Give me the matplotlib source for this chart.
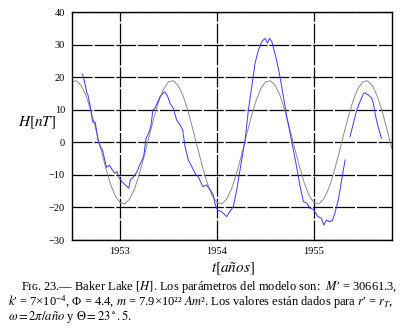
import numpy as np
import matplotlib
matplotlib.use("Agg")
import matplotlib.pyplot as plt

plt.rcParams['font.family'] = ['Liberation Serif', 'DejaVu Serif']
plt.rcParams['mathtext.fontset'] = 'stix'

# model curve (gray), every 0.05 yr
model_t = [1952.50 + 0.05 * i for i in range(67)]
model_v = [18.5, 18.9, 17.4, 14.3, 9.7, 4.1, -1.8, -7.5, -12.6, -16.4,
           -18.5, -18.9, -17.4, -14.3, -9.7, -4.1, 1.8, 7.5, 12.6, 16.4,
           18.5, 18.9, 17.4, 14.3, 9.7, 4.1, -1.8, -7.5, -12.6, -16.4,
           -18.5, -18.9, -17.4, -14.3, -9.7, -4.1, 1.8, 7.5, 12.6, 16.4,
           18.5, 18.9, 17.4, 14.3, 9.7, 4.1, -1.8, -7.5, -12.6, -16.4,
           -18.5, -18.9, -17.4, -14.3, -9.7, -4.1, 1.8, 7.5, 12.6, 16.4,
           18.5, 18.9, 17.4, 14.3, 9.7, 4.1, -1.8]

# observed H (blue)
obs_t = [1952.615, 1952.63, 1952.66, 1952.67, 1952.694, 1952.718, 1952.745,
         1952.773, 1952.797, 1952.82, 1952.86, 1952.89, 1952.91, 1952.945,
         1952.97, 1952.985, 1953.02, 1953.055, 1953.09, 1953.106, 1953.14,
         1953.175, 1953.21, 1953.244, 1953.268, 1953.295, 1953.315, 1953.34,
         1953.36, 1953.412, 1953.44, 1953.464, 1953.49, 1953.515, 1953.55,
         1953.584, 1953.62, 1953.646, 1953.67, 1953.704, 1953.74, 1953.773,
         1953.807, 1953.853, 1953.89, 1953.928, 1953.962, 1953.975, 1954.004,
         1954.045, 1954.10, 1954.13, 1954.168, 1954.203, 1954.254, 1954.289,
         1954.323, 1954.358, 1954.392, 1954.426, 1954.461, 1954.495, 1954.52,
         1954.54, 1954.565, 1954.605, 1954.64, 1954.666, 1954.684, 1954.718,
         1954.753, 1954.787, 1954.82, 1954.856, 1954.89, 1954.925, 1954.959,
         1954.99, 1955.007, 1955.04, 1955.075, 1955.10, 1955.128, 1955.162,
         1955.19, 1955.214, 1955.25, 1955.284, 1955.32, 1955.34, 1955.37,
         1955.405, 1955.44, 1955.474, 1955.508, 1955.525, 1955.56, 1955.595,
         1955.61, 1955.635, 1955.66, 1955.695]
obs_v = [20.9, 19.1, 15.0, 14.5, 10.9, 6.3, 6.1,
         0.7, -1.3, -2.4, -7.7, -7.0, -8.0, -9.5,
         -9.0, -10.6, -12.1, -13.1, -14.1, -11.6, -10.6,
         -9.0, -6.5, -4.4, 1.2, 2.8, 4.5, 9.9,
         10.4, 14.0, 15.0, 15.5, 14.2, 12.0, 10.4,
         6.8, 5.3, 3.8, -1.3, -5.4, -7.5, -9.5,
         -10.6, -13.6, -13.1, -14.6, -16.2, -18.5, -20.8,
         -21.3, -22.8, -21.3, -19.8, -14.6, -5.4, 0.7,
         9.9, 17.1, 24.3, 28.3, 30.9, 31.9, 30.4,
         31.9, 30.9, 26.3, 21.5, 17.1, 14.0, 7.9,
         2.8, -2.4, -7.5, -13.6, -18.2, -18.7, -20.3,
         -20.5, -21.3, -22.8, -23.3, -25.4, -23.9, -24.4,
         -23.9, -21.8, -17.7, -11.6, -5.4, np.nan, 1.7,
         5.8, 9.9, 12.5, 15.0, 15.2, 14.5, 13.5,
         12.0, 7.9, 4.8, 1.2]

yticks = [-30, -20, -10, 0, 10, 20, 30, 40]
xticks = [1953, 1954, 1955]

fig = plt.figure(figsize=(4.16, 3.29), dpi=100)
ax = fig.add_axes([0.173, 0.2705, 0.7686, 0.693])

ax.plot(model_t, model_v, color='#8c8c8c', lw=0.7)
ax.plot(obs_t, obs_v, color='#3a3aff', lw=0.7)

ax.set_xlim(1952.505, 1955.80)
ax.set_ylim(-30, 40)
ax.set_xticks(xticks)
ax.set_yticks(yticks)
ax.set_xticklabels([str(t) for t in xticks])
ax.grid(True, color='black', lw=0.9, linestyle=(0, (16, 1.5)))
ax.set_axisbelow(True)
ax.tick_params(length=0, labelsize=7.5, pad=5)
for s in ax.spines.values():
    s.set_linewidth(1.0)

fig.text(0.043, 0.627, r'$H[nT]$', fontsize=11, ha='left', va='center')
fig.text(0.56, 0.183, r'$t[años]$', fontsize=11, ha='center', va='center')

# caption
fs = 9.0
fig.text(0.05, 0.118,
         "Fɪɢ. 23.— Baker Lake [$H$]. Los parámetros del modelo son:  $M$′ = 30661.3,",
         fontsize=fs, va='baseline')
fig.text(0.02, 0.067,
         "$k$′ = 7×10$^{\\mathregular{-4}}$, Φ = 4.4, $m$ = 7.9×10²² $Am$². "
         "Los valores están dados para $r$′ = $r_{T}$,", fontsize=fs, va='baseline')
fig.text(0.02, 0.026, r"$\omega = 2\pi/año$ y $\Theta = 23^\circ.5$.",
         fontsize=fs, va='baseline')

fig.savefig('out.png', dpi=100)
